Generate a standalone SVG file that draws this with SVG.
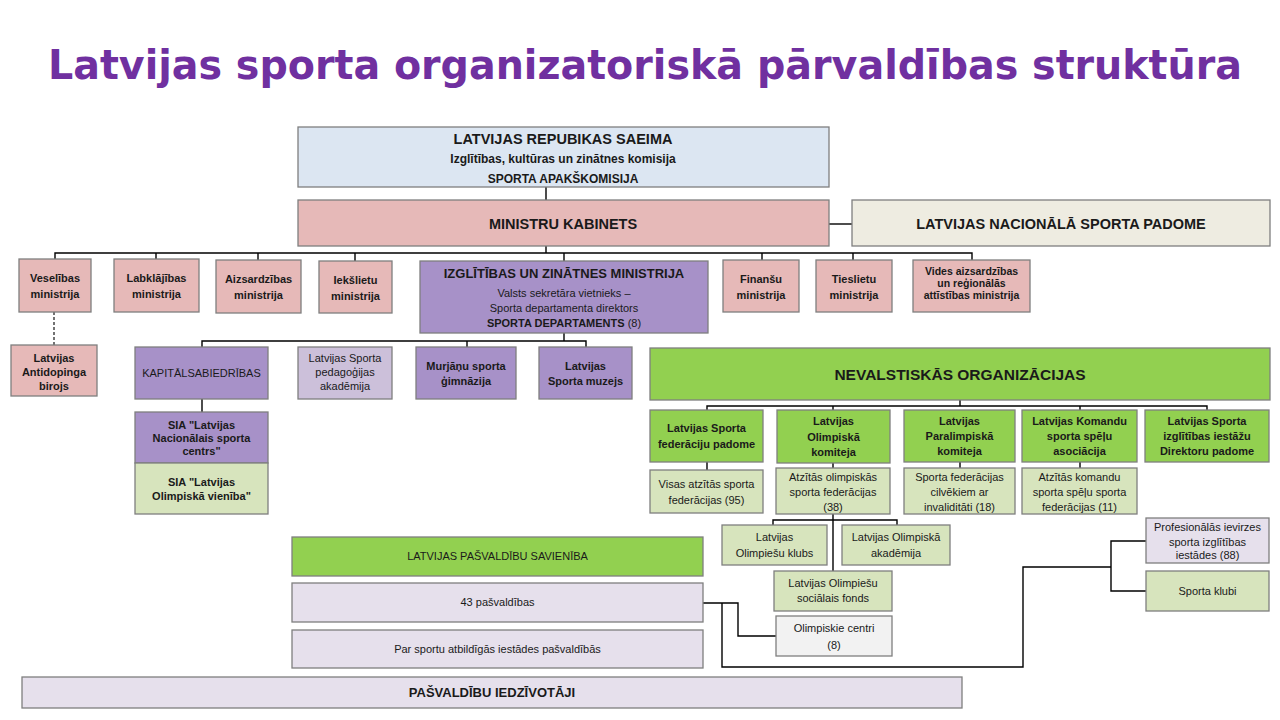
<svg xmlns="http://www.w3.org/2000/svg" width="1280" height="720" viewBox="0 0 1280 720">
<style>
.b{stroke:#7f7f7f;stroke-width:1.3}
.blue{fill:#DCE6F2}.pink{fill:#E6B9B8}.beige{fill:#EEECE1}.pur{fill:#A791C8}.lpur{fill:#CCC0DA}
.grn{fill:#92D050}.pg{fill:#D7E4BD}.lav{fill:#E6E0EC}.gry{fill:#F2F2F2}
text{font-family:"Liberation Sans",Arial,sans-serif;fill:#1a1a1a;text-anchor:middle}
.t11{font-size:11px}.t10{font-size:10.5px}.t12{font-size:12px}.t13{font-size:13px}.t14{font-size:14.5px}.t16{font-size:15.5px}
.bd{font-weight:bold}
.title{font-family:"DejaVu Sans",Verdana,sans-serif;font-size:41px;font-weight:bold;fill:#7030A0;text-anchor:start}
.c line,.c polyline{stroke:#000;stroke-width:1.4;fill:none}
</style>
<g id="title">
<text class="title" x="48" y="79" textLength="695" lengthAdjust="spacingAndGlyphs">Latvijas sporta organizatoriskā</text>
<text class="title" x="757" y="79" textLength="485" lengthAdjust="spacingAndGlyphs">pārvaldības struktūra</text>
</g>

<g class="c" id="connectors">
<line x1="546" y1="187" x2="546" y2="200"/>
<line x1="829" y1="224" x2="852" y2="224"/>
<line x1="546" y1="246" x2="546" y2="253"/>
<polyline points="55,259 55,253 972,253 972,260"/>
<line x1="156" y1="253" x2="156" y2="259"/>
<line x1="258" y1="253" x2="258" y2="260"/>
<line x1="355" y1="253" x2="355" y2="261"/>
<line x1="564" y1="253" x2="564" y2="261"/>
<line x1="762" y1="253" x2="762" y2="260"/>
<line x1="853" y1="253" x2="853" y2="260"/>
<line x1="54" y1="312" x2="54" y2="345" style="stroke-dasharray:3,2;stroke-width:1.1"/>
<line x1="564" y1="333" x2="564" y2="341"/>
<polyline points="202,347 202,341 586,341 586,347"/>
<line x1="467" y1="341" x2="467" y2="347"/>
<line x1="202" y1="399" x2="202" y2="412"/>
<line x1="960" y1="400" x2="960" y2="406"/>
<polyline points="707,410 707,406 1207,406 1207,410"/>
<line x1="833" y1="406" x2="833" y2="410"/>
<line x1="1080" y1="406" x2="1080" y2="410"/>
<line x1="707" y1="462" x2="707" y2="470"/>
<line x1="833" y1="463" x2="833" y2="468"/>
<line x1="960" y1="462" x2="960" y2="468"/>
<line x1="1080" y1="462" x2="1080" y2="468"/>
<line x1="833" y1="514" x2="833" y2="571"/>
<polyline points="773,525 773,520 897,520 897,525"/>
<polyline points="703,603 738,603 738,636 776,636"/>
<polyline points="722,603 722,667 1023,667 1023,567 1111,567"/>
<polyline points="1146,541 1111,541 1111,591 1146,591"/>
</g>

<g id="saeima"><rect class="b blue" x="298" y="127" width="531" height="60"/>
<text class="t14 bd" x="563" y="144">LATVIJAS REPUBIKAS SAEIMA</text>
<text class="t12 bd" x="563" y="163">Izglītības, kultūras un zinātnes komisija</text>
<text class="t12 bd" x="563" y="183">SPORTA APAKŠKOMISIJA</text></g>

<g id="mk"><rect class="b pink" x="298" y="200" width="531" height="46"/>
<text class="t14 bd" x="563" y="229">MINISTRU KABINETS</text></g>

<g id="lnsp"><rect class="b beige" x="852" y="200" width="418" height="46"/>
<text class="t14 bd" x="1061" y="229">LATVIJAS NACIONĀLĀ SPORTA PADOME</text></g>

<g id="vm"><rect class="b pink" x="19" y="259" width="72" height="53"/>
<text class="t11 bd" x="55" y="282">Veselības</text><text class="t11 bd" x="55" y="298">ministrija</text></g>
<g id="lm"><rect class="b pink" x="114" y="259" width="85" height="53"/>
<text class="t11 bd" x="156.5" y="282">Labklājības</text><text class="t11 bd" x="156.5" y="298">ministrija</text></g>
<g id="am"><rect class="b pink" x="216" y="260" width="85" height="53"/>
<text class="t11 bd" x="258.5" y="283">Aizsardzības</text><text class="t11 bd" x="258.5" y="299">ministrija</text></g>
<g id="iem"><rect class="b pink" x="319" y="261" width="73" height="52"/>
<text class="t11 bd" x="355.5" y="284">Iekšlietu</text><text class="t11 bd" x="355.5" y="300">ministrija</text></g>

<g id="izm"><rect class="b pur" x="420" y="261" width="288" height="72"/>
<text class="t13 bd" x="564" y="278">IZGLĪTĪBAS UN ZINĀTNES MINISTRIJA</text>
<text class="t11" x="564" y="297">Valsts sekretāra vietnieks –</text>
<text class="t11" x="564" y="312">Sporta departamenta direktors</text>
<text class="t11" x="564" y="327"><tspan class="bd">SPORTA DEPARTAMENTS</tspan> (8)</text></g>

<g id="fm"><rect class="b pink" x="723" y="260" width="76" height="52"/>
<text class="t11 bd" x="761" y="283">Finanšu</text><text class="t11 bd" x="761" y="299">ministrija</text></g>
<g id="tm"><rect class="b pink" x="816" y="260" width="76" height="52"/>
<text class="t11 bd" x="854" y="283">Tieslietu</text><text class="t11 bd" x="854" y="299">ministrija</text></g>
<g id="varam"><rect class="b pink" x="913" y="260" width="117" height="52"/>
<text class="t10 bd" x="971.5" y="275">Vides aizsardzības</text><text class="t10 bd" x="971.5" y="287">un reģionālās</text><text class="t10 bd" x="971.5" y="299">attīstības ministrija</text></g>

<g id="antidop"><rect class="b pink" x="11" y="345" width="86" height="51"/>
<text class="t11 bd" x="54" y="362">Latvijas</text><text class="t11 bd" x="54" y="376">Antidopinga</text><text class="t11 bd" x="54" y="390">birojs</text></g>

<g id="kapit"><rect class="b pur" x="135" y="347" width="133" height="52"/>
<text class="t11" x="201.5" y="377">KAPITĀLSABIEDRĪBAS</text></g>
<g id="lnsc"><rect class="b pur" x="135" y="412" width="133" height="51"/>
<text class="t11 bd" x="201.5" y="429">SIA "Latvijas</text><text class="t11 bd" x="201.5" y="442">Nacionālais sporta</text><text class="t11 bd" x="201.5" y="455">centrs"</text></g>
<g id="lov"><rect class="b pg" x="135" y="463" width="133" height="51"/>
<text class="t11 bd" x="201.5" y="486">SIA "Latvijas</text><text class="t11 bd" x="201.5" y="500">Olimpiskā vienība"</text></g>

<g id="lspa"><rect class="b lpur" x="298" y="347" width="94" height="52"/>
<text class="t11" x="345" y="362">Latvijas Sporta</text><text class="t11" x="345" y="376">pedagoģijas</text><text class="t11" x="345" y="390">akadēmija</text></g>
<g id="murj"><rect class="b pur" x="416" y="347" width="100" height="52"/>
<text class="t11 bd" x="466" y="370">Murjāņu sporta</text><text class="t11 bd" x="466" y="385">ģimnāzija</text></g>
<g id="muz"><rect class="b pur" x="539" y="347" width="93" height="52"/>
<text class="t11 bd" x="585.5" y="370">Latvijas</text><text class="t11 bd" x="585.5" y="385">Sporta muzejs</text></g>

<g id="nvo"><rect class="b grn" x="650" y="348" width="620" height="52"/>
<text class="t16 bd" x="960" y="380">NEVALSTISKĀS ORGANIZĀCIJAS</text></g>

<g id="lsfp"><rect class="b grn" x="650" y="410" width="113" height="52"/>
<text class="t11 bd" x="706.5" y="432">Latvijas Sporta</text><text class="t11 bd" x="706.5" y="448">federāciju padome</text></g>
<g id="lok"><rect class="b grn" x="777" y="410" width="113" height="53"/>
<text class="t11 bd" x="833.5" y="425">Latvijas</text><text class="t11 bd" x="833.5" y="441">Olimpiskā</text><text class="t11 bd" x="833.5" y="456">komiteja</text></g>
<g id="lpk"><rect class="b grn" x="904" y="410" width="111" height="52"/>
<text class="t11 bd" x="959.5" y="425">Latvijas</text><text class="t11 bd" x="959.5" y="440">Paralimpiskā</text><text class="t11 bd" x="959.5" y="455">komiteja</text></g>
<g id="lkssa"><rect class="b grn" x="1022" y="410" width="115" height="52"/>
<text class="t11 bd" x="1079.5" y="425">Latvijas Komandu</text><text class="t11 bd" x="1079.5" y="440">sporta spēļu</text><text class="t11 bd" x="1079.5" y="455">asociācija</text></g>
<g id="lsiidp"><rect class="b grn" x="1145" y="410" width="124" height="52"/>
<text class="t11 bd" x="1207" y="425">Latvijas Sporta</text><text class="t11 bd" x="1207" y="440">izglītības iestāžu</text><text class="t11 bd" x="1207" y="455">Direktoru padome</text></g>

<g id="visas"><rect class="b pg" x="650" y="470" width="113" height="43"/>
<text class="t11" x="706.5" y="488">Visas atzītās sporta</text><text class="t11" x="706.5" y="504">federācijas (95)</text></g>
<g id="olfed"><rect class="b pg" x="776" y="468" width="114" height="46"/>
<text class="t11" x="833" y="481">Atzītās olimpiskās</text><text class="t11" x="833" y="496">sporta federācijas</text><text class="t11" x="833" y="511">(38)</text></g>
<g id="parafed"><rect class="b pg" x="904" y="468" width="111" height="46"/>
<text class="t11" x="959.5" y="481">Sporta federācijas</text><text class="t11" x="959.5" y="496">cilvēkiem ar</text><text class="t11" x="959.5" y="511">invaliditāti (18)</text></g>
<g id="komfed"><rect class="b pg" x="1022" y="468" width="115" height="46"/>
<text class="t11" x="1079.5" y="481">Atzītās komandu</text><text class="t11" x="1079.5" y="496">sporta spēļu sporta</text><text class="t11" x="1079.5" y="511">federācijas (11)</text></g>

<g id="olklubs"><rect class="b pg" x="722" y="525" width="105" height="40"/>
<text class="t11" x="774.5" y="541">Latvijas</text><text class="t11" x="774.5" y="557">Olimpiešu klubs</text></g>
<g id="olakad"><rect class="b pg" x="842" y="525" width="108" height="40"/>
<text class="t11" x="896" y="541">Latvijas Olimpiskā</text><text class="t11" x="896" y="557">akadēmija</text></g>
<g id="olfonds"><rect class="b pg" x="774" y="571" width="118" height="40"/>
<text class="t11" x="833" y="587">Latvijas Olimpiešu</text><text class="t11" x="833" y="602">sociālais fonds</text></g>
<g id="olcentri"><rect class="b gry" x="776" y="616" width="116" height="40"/>
<text class="t11" x="834" y="632">Olimpiskie centri</text><text class="t11" x="834" y="649">(8)</text></g>

<g id="prof"><rect class="b lav" x="1146" y="518" width="123" height="45"/>
<text class="t11" x="1207.5" y="531">Profesionālās ievirzes</text><text class="t11" x="1207.5" y="546">sporta izglītības</text><text class="t11" x="1207.5" y="559">iestādes (88)</text></g>
<g id="klubi"><rect class="b pg" x="1146" y="571" width="123" height="40"/>
<text class="t11" x="1207.5" y="595">Sporta klubi</text></g>

<g id="lps"><rect class="b grn" x="292" y="537" width="411" height="39"/>
<text class="t11" x="497.5" y="560">LATVIJAS PAŠVALDĪBU SAVIENĪBA</text></g>
<g id="pasv43"><rect class="b lav" x="292" y="583" width="411" height="39"/>
<text class="t11" x="497.5" y="606">43 pašvaldības</text></g>
<g id="iestades"><rect class="b lav" x="292" y="630" width="411" height="38"/>
<text class="t11" x="497.5" y="653">Par sportu atbildīgās iestādes pašvaldībās</text></g>
<g id="iedz"><rect class="b lav" x="22" y="677" width="940" height="31"/>
<text class="t13 bd" x="492" y="697">PAŠVALDĪBU IEDZĪVOTĀJI</text></g>
</svg>
